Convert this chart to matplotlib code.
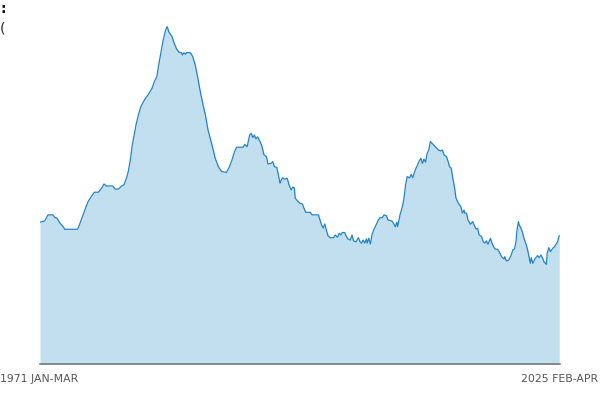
import matplotlib
matplotlib.use("Agg")
import matplotlib.pyplot as plt

# month index since "1971 JAN-MAR" (rolling three-month periods)
months = [0, 3, 6, 10, 16, 19, 21, 25, 29, 31, 47, 50, 56, 60, 64, 68, 73, 77, 80, 83,
          91, 94, 98, 102, 105, 108, 110, 113, 115, 118, 120, 123, 126, 131, 135, 140,
          143, 146, 148, 151, 154, 157, 159, 161, 165, 168, 171, 174, 177, 178, 180, 182,
          183, 188, 191, 194, 197, 200, 203, 207, 210, 215, 219, 223, 227, 233, 236, 240,
          243, 246, 254, 256, 259, 262, 264, 266, 268, 270, 272, 274, 277, 280, 283, 285,
          289, 291, 293, 296, 298, 300, 303, 306, 309, 312, 314, 316, 318, 319, 322, 325,
          328, 330, 332, 338, 340, 348, 350, 352, 354, 356, 358, 360, 363, 367, 369, 372,
          374, 376, 378, 381, 383, 385, 388, 390, 392, 395, 398, 400, 402, 404, 406, 408,
          409, 411, 413, 415, 417, 420, 423, 425, 428, 430, 433, 435, 440, 442, 444, 446,
          447, 450, 453, 455, 457, 459, 462, 464, 466, 468, 470, 472, 474, 476, 478, 480,
          482, 484, 486, 488, 490, 494, 498, 501, 503, 505, 508, 510, 512, 514, 516, 518,
          520, 523, 526, 528, 530, 531, 533, 535, 538, 541, 543, 545, 547, 549, 552, 554,
          556, 558, 560, 563, 565, 567, 569, 572, 574, 577, 580, 581, 583, 586, 589, 591,
          593, 595, 596, 598, 599, 601, 602, 603, 605, 608, 610, 612, 613, 614, 616, 619,
          622, 624, 626, 628, 630, 633, 634, 636, 638, 641, 643, 645, 647, 648, 649]

values = [5.01, 5.03, 5.06, 5.27, 5.27, 5.17, 5.16, 4.98, 4.85, 4.76, 4.76, 4.97, 5.44, 5.73,
          5.91, 6.07, 6.07, 6.21, 6.36, 6.29, 6.29, 6.18, 6.18, 6.29, 6.33, 6.56, 6.76, 7.21,
          7.68, 8.15, 8.45, 8.80, 9.09, 9.35, 9.51, 9.74, 9.98, 10.15, 10.51, 10.98, 11.45,
          11.80, 11.92, 11.74, 11.57, 11.31, 11.12, 11.01, 11.00, 10.92, 11.00, 10.94, 11.00,
          11.00, 10.86, 10.57, 10.15, 9.68, 9.27, 8.76, 8.27, 7.74, 7.27, 6.97, 6.80, 6.77,
          6.92, 7.21, 7.50, 7.66, 7.66, 7.76, 7.68, 8.09, 8.15, 8.00, 8.09, 7.95, 8.03, 7.92,
          7.74, 7.39, 7.33, 7.07, 7.09, 7.15, 6.97, 6.95, 6.68, 6.39, 6.58, 6.53, 6.56, 6.27,
          6.15, 6.25, 6.22, 5.86, 5.76, 5.68, 5.65, 5.50, 5.36, 5.36, 5.27, 5.27, 5.09, 4.91,
          4.80, 4.95, 4.73, 4.53, 4.46, 4.46, 4.56, 4.48, 4.62, 4.56, 4.65, 4.64, 4.50, 4.42,
          4.38, 4.56, 4.35, 4.32, 4.46, 4.32, 4.27, 4.38, 4.27, 4.42, 4.27, 4.44, 4.24, 4.56,
          4.73, 4.91, 5.09, 5.17, 5.17, 5.27, 5.24, 5.09, 5.05, 4.97, 4.85, 5.01, 4.85, 5.27,
          5.56, 5.86, 6.33, 6.62, 6.58, 6.70, 6.58, 6.77, 6.92, 7.03, 7.17, 7.27, 7.09, 7.24,
          7.13, 7.45, 7.56, 7.86, 7.80, 7.68, 7.56, 7.53, 7.56, 7.39, 7.33, 7.17, 6.97, 6.92,
          6.56, 6.27, 5.86, 5.68, 5.56, 5.33, 5.44, 5.33, 5.33, 5.09, 4.94, 5.03, 4.89, 4.77,
          4.80, 4.56, 4.50, 4.32, 4.27, 4.35, 4.23, 4.44, 4.27, 4.14, 4.06, 4.05, 3.97, 3.79,
          3.71, 3.79, 3.64, 3.67, 3.85, 4.03, 4.06, 4.32, 4.67, 5.03, 4.91, 4.82, 4.73, 4.67,
          4.44, 4.20, 3.97, 3.67, 3.56, 3.76, 3.56, 3.73, 3.83, 3.76, 3.85, 3.76, 3.61, 3.52,
          3.91, 4.11, 3.97, 4.09, 4.14, 4.23, 4.32, 4.44, 4.53]

first_label = "1971 JAN-MAR"
last_label = "2025 FEB-APR"

fig = plt.figure(figsize=(6, 4), dpi=100)
ax = fig.add_axes([40 / 600, 36 / 400, 520 / 600, 344 / 400])
ax.fill_between(months, values, 0, color="#c2dff0", linewidth=0)
ax.plot(months, values, color="#2283c8", linewidth=0.9)
ax.set_xlim(0, 650)
ax.set_ylim(0, 12.155)
for s in ("top", "right", "left"):
    ax.spines[s].set_visible(False)
ax.spines["bottom"].set_color("#707070")
ax.spines["bottom"].set_linewidth(1.1)
ax.set_xticks([])
ax.set_yticks([])

fig.text(0 / 600, 1 - 379 / 400, first_label, ha="left", va="center",
         fontsize=7.8, color="#555555")
fig.text(598 / 600, 1 - 379 / 400, last_label, ha="right", va="center",
         fontsize=7.8, color="#555555")
fig.text(0.0, 1 - 9 / 400, ":", ha="left", va="center", fontsize=10,
         color="#111111", fontweight="bold")
fig.text(0.0, 1 - 29 / 400, "(", ha="left", va="center", fontsize=10, color="#222222")

fig.savefig("out.png", dpi=100)
